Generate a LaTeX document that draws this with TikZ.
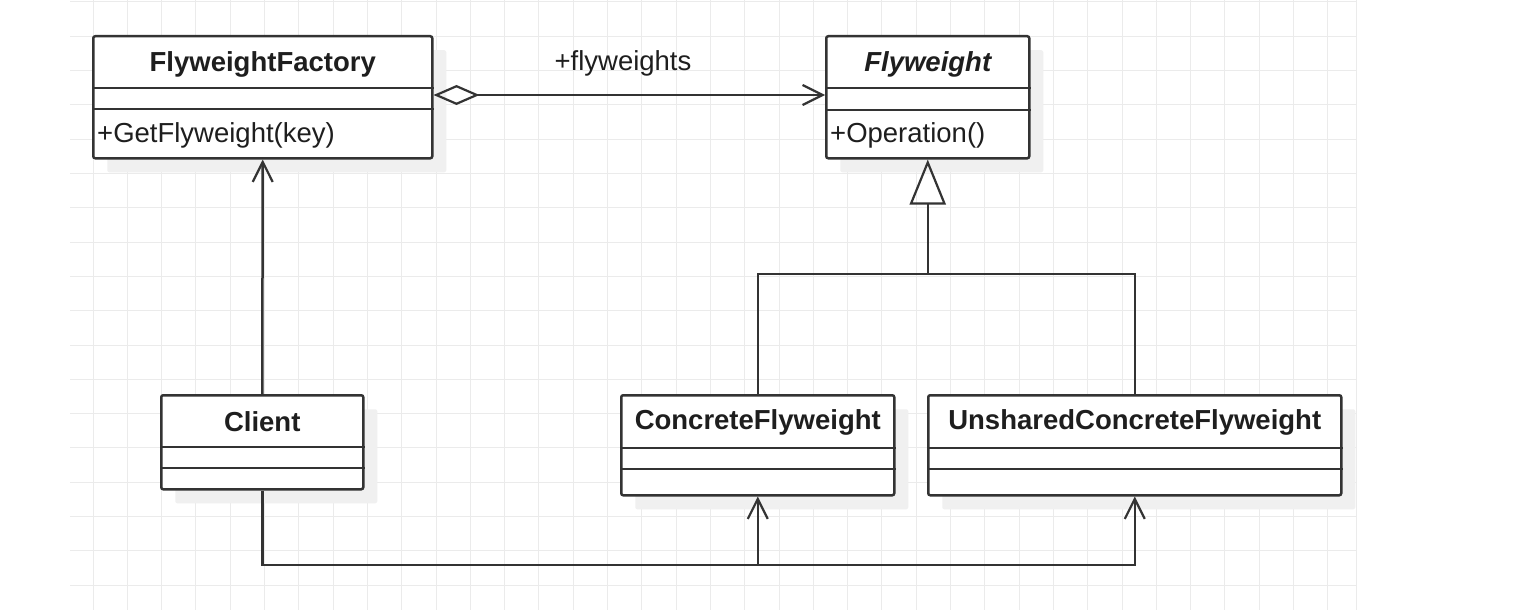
\documentclass[tikz,border=0pt]{standalone}
\usepackage{fontspec}
\setmainfont{Liberation Sans}
\usetikzlibrary{arrows.meta,shadows}
\definecolor{ln}{HTML}{333333}
\definecolor{txt}{HTML}{1E1E1E}
\definecolor{gridc}{HTML}{EBEBEB}
\definecolor{shd}{HTML}{F0F0F0}
\begin{document}
\begin{tikzpicture}[x=1pt,y=-1pt,
  cls/.style={draw=ln, line width=2.5pt, fill=white, rounded corners=2pt, inner sep=0pt, anchor=north west,
    drop shadow={fill=shd, opacity=1, shadow xshift=14pt, shadow yshift=-14pt}},
  ttl/.style={font=\fontsize{27.5}{32}\selectfont\bfseries, text=txt, inner sep=0pt},
  mem/.style={font=\fontsize{27.5}{32}\selectfont, text=txt, inner sep=0pt},
  sep/.style={draw=ln, line width=2.5pt},
  conn/.style={draw=ln, line width=2.5pt},
  opena/.style={-{Straight Barb[length=20pt,width=20pt,line width=2.2pt]}},
  gridl/.style={draw=gridc, line width=1pt}
]
\useasboundingbox (0,0) rectangle (1540,610);
\fill[white] (0,0) rectangle (1540,610);
% grid
\foreach \i in {0,...,36} \draw[gridl] ({93+34.3*\i},0) -- ({93+34.3*\i},610);
\foreach \j in {0,...,17} \draw[gridl] (70,{2+34.3*\j}) -- (1356,{2+34.3*\j});
\draw[gridl] (1356,0) -- (1356,610);

% classes
\node[cls, minimum width=339pt, minimum height=122pt] (ff) at (92,35) {};
\draw[sep] ([yshift=-53pt]ff.north west) -- ([yshift=-53pt]ff.north east);
\draw[sep] ([yshift=-74pt]ff.north west) -- ([yshift=-74pt]ff.north east);
\node[ttl] (fft) at ([yshift=-29pt]ff.north) {FlyweightFactory};
\node[mem, anchor=west] (ffm) at ([xshift=5pt,yshift=-100pt]ff.north west) {+GetFlyweight(key)};

\node[cls, minimum width=203pt, minimum height=122pt] (fw) at (825,35) {};
\draw[sep] ([yshift=-53pt]fw.north west) -- ([yshift=-53pt]fw.north east);
\draw[sep] ([yshift=-75pt]fw.north west) -- ([yshift=-75pt]fw.north east);
\node[ttl, font=\fontsize{27.5}{32}\selectfont\bfseries\itshape] (fwt) at ([yshift=-29pt]fw.north) {Flyweight};
\node[mem, anchor=west] (fwm) at ([xshift=5pt,yshift=-100pt]fw.north west) {+Operation()};

\node[cls, minimum width=202pt, minimum height=94pt] (cl) at (160,394) {};
\draw[sep] ([yshift=-53pt]cl.north west) -- ([yshift=-53pt]cl.north east);
\draw[sep] ([yshift=-74pt]cl.north west) -- ([yshift=-74pt]cl.north east);
\node[ttl] (clt) at ([yshift=-28pt]cl.north) {Client};

\node[cls, minimum width=273pt, minimum height=100pt] (cf) at (620,394) {};
\draw[sep] ([yshift=-54pt]cf.north west) -- ([yshift=-54pt]cf.north east);
\draw[sep] ([yshift=-75pt]cf.north west) -- ([yshift=-75pt]cf.north east);
\node[ttl] (cft) at ([yshift=-28pt]cf.north) {ConcreteFlyweight};

\node[cls, minimum width=413pt, minimum height=100pt] (uc) at (927,394) {};
\draw[sep] ([yshift=-54pt]uc.north west) -- ([yshift=-54pt]uc.north east);
\draw[sep] ([yshift=-75pt]uc.north west) -- ([yshift=-75pt]uc.north east);
\node[ttl] (uct) at ([yshift=-28pt]uc.north) {UnsharedConcreteFlyweight};

% aggregation
\draw[conn, {Diamond[open,length=46pt,width=20pt,line width=2.2pt]}-{Straight Barb[length=20pt,width=20pt,line width=2.2pt]}]
  ([yshift=-60pt]ff.north east) -- ([yshift=-60pt]fw.north west);
\node[mem] (lbl) at (623,63) {+flyweights};

% generalization
\coordinate (gen) at (0,274);
\draw[conn] (cf.north) -- (cf.north |- gen) -- (uc.north |- gen) -- (uc.north);
\draw[conn, -{Triangle[open,length=45pt,width=36pt,line width=2.2pt]}] (fw.south |- gen) -- (fw.south);

% client -> factory
\draw[conn, opena] (cl.north) -- (ff.south);

% client -> concrete ones
\coordinate (bot) at (0,565);
\draw[conn, opena] (cl.south) -- (cl.south |- bot) -- (cf.south |- bot) -- (cf.south);
\draw[conn, opena] (cf.south |- bot) -- (uc.south |- bot) -- (uc.south);
\end{tikzpicture}
\end{document}
